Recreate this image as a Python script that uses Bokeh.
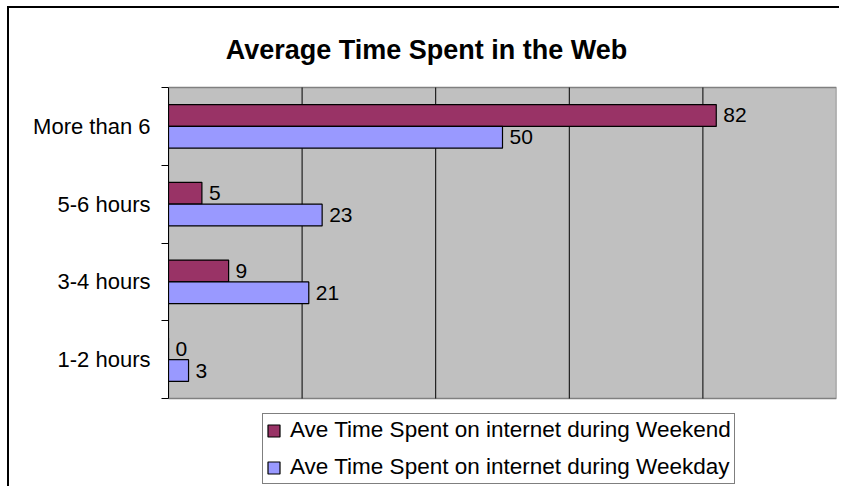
from bokeh.plotting import figure
from bokeh.models import (ColumnDataSource, Range1d, FixedTicker, Label,
                          Legend, LegendItem)
from bokeh.core.properties import value
from bokeh.transform import dodge
from bokeh.embed import file_html
from bokeh.resources import INLINE

# ---- data (top to bottom as shown) ----
categories = ["More than 6", "5-6 hours", "3-4 hours", "1-2 hours"]
weekend = [82, 5, 9, 0]
weekday = [50, 23, 21, 3]
series_names = ["Ave Time Spent on internet during Weekend",
                "Ave Time Spent on internet during Weekday"]
title_text = "Average Time Spent in the Web"
x_min, x_max, x_step = 0, 100, 20

n = len(categories)
ypos = [n - 0.5 - i for i in range(n)]
src = ColumnDataSource(dict(
    cat=categories, ypos=ypos,
    weekend=weekend, weekday=weekday,
    weekend_lbl=[str(v) for v in weekend],
    weekday_lbl=[str(v) for v in weekday],
))
grid_src = ColumnDataSource(dict(gx=list(range(x_min + x_step, x_max, x_step))))

FONT = "Liberation Sans"
W, H = 832, 480
# layout in pixels: frame covers whole canvas height; plot area is inside it
TOP_PX, DATA_PX, BOT_PX = 79, 311, 88
y_lo = -n * BOT_PX / DATA_PX
y_hi = n + n * TOP_PX / DATA_PX

p = figure(width=W, height=H, output_backend="svg", toolbar_location=None,
           x_range=Range1d(x_min, x_max), y_range=Range1d(y_lo, y_hi),
           min_border_left=159, min_border_right=5, min_border_top=0,
           min_border_bottom=2)
p.styles = {"margin-left": "7px", "margin-top": "6px",
            "border-top": "2px solid black", "border-left": "2px solid black"}
p.background_fill_color = "white"
p.border_fill_color = "white"
p.outline_line_color = None
p.xgrid.visible = False
p.ygrid.visible = False
p.xaxis.visible = False

# plot area background
p.quad(left=x_min, right=x_max, bottom=0, top=n, fill_color="#C0C0C0",
       line_color="#808080", line_width=1.5)
# vertical gridlines
p.segment(x0="gx", x1="gx", y0=0, y1=n, source=grid_src,
          line_color="black", line_width=1)

# bars
bar_h = 0.28
r_we = p.hbar(y=dodge("ypos", 0.14, range=p.y_range), right="weekend", left=0,
              height=bar_h, source=src, fill_color="#993366",
              line_color="black", line_width=1.2)
r_wd = p.hbar(y=dodge("ypos", -0.14, range=p.y_range), right="weekday", left=0,
              height=bar_h, source=src, fill_color="#9999FF",
              line_color="black", line_width=1.2)

# data labels
for col, off in (("weekend", 0.14), ("weekday", -0.14)):
    p.text(x=col, y=dodge("ypos", off, range=p.y_range), text=col + "_lbl",
           source=src, x_offset=7, text_baseline="middle", text_align="left",
           text_font_size="21px", text_font=value(FONT), text_color="black")

# y axis: labels at category centres, ticks at boundaries
yax = p.yaxis[0]
yax.bounds = (0, n)
yax.ticker = FixedTicker(ticks=ypos, minor_ticks=list(range(n + 1)))
yax.major_label_overrides = {y: c for y, c in zip(ypos, categories)}
yax.major_tick_line_color = None
yax.major_tick_out = 0
yax.major_tick_in = 0
yax.minor_tick_line_color = "black"
yax.minor_tick_out = 7
yax.minor_tick_in = 0
yax.axis_line_color = "black"
yax.major_label_standoff = 11
yax.major_label_text_font = FONT
yax.major_label_text_font_size = "22px"
yax.major_label_text_color = "black"

# title
p.add_layout(Label(x=258, y=437, x_units="screen", y_units="screen",
                   text=title_text, text_font=FONT, text_font_size="27px",
                   text_font_style="bold", text_color="black",
                   text_align="center", text_baseline="alphabetic"))

# legend
legend = Legend(items=[LegendItem(label=series_names[0], renderers=[r_we]),
                       LegendItem(label=series_names[1], renderers=[r_wd])],
                location=(94, 2), orientation="vertical",
                glyph_width=15, glyph_height=15, label_height=26,
                spacing=11, padding=3, margin=0, label_standoff=9,
                label_text_font=FONT, label_text_font_size="22.5px",
                label_text_color="black",
                border_line_color="black", border_line_width=1,
                background_fill_color="white", background_fill_alpha=1)
p.add_layout(legend, "center")

open("out.html", "w").write(file_html(p, INLINE))
